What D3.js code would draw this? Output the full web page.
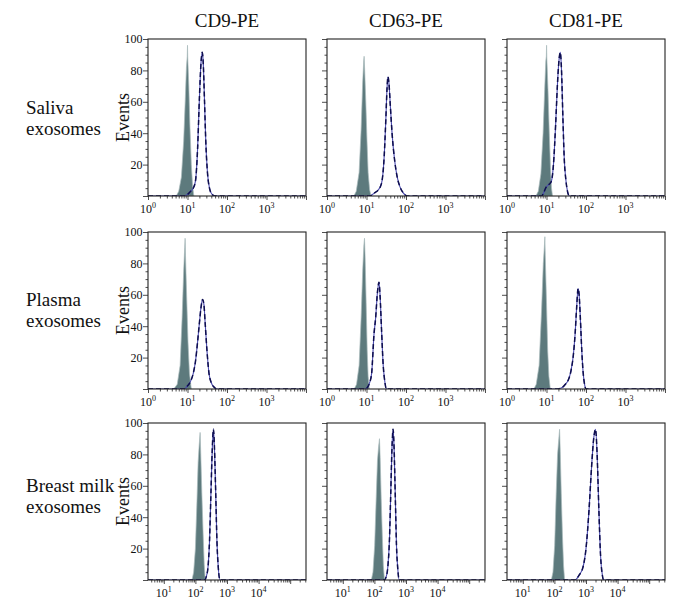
<!DOCTYPE html>
<html>
<head>
<meta charset="utf-8">
<script src="https://cdn.jsdelivr.net/npm/d3@7/dist/d3.min.js"></script>
<style>
  html, body { margin: 0; padding: 0; background: #fff; }
  svg { display: block; }
  svg text { font-family: 'Liberation Serif', 'Times New Roman', Times, 'DejaVu Serif', serif; fill: #111; }
</style>
</head>
<body>
<svg id="chart" width="685" height="616"></svg>
<script>
// ---------- data ----------
const markers = ["CD9-PE", "CD63-PE", "CD81-PE"];
const sampleLabels = [["Saliva", "exosomes"], ["Plasma", "exosomes"], ["Breast milk", "exosomes"]];
const yTickValues = [0, 20, 40, 60, 80, 100];
const yTickLabels = ["", "20", "40", "60", "80", "100"];
const xDomainExponents = [[0, 4], [0, 4], [0.5, 5.5]];
const xTickExponents = [[0, 1, 2, 3], [0, 1, 2, 3], [1, 2, 3, 4]];

// isotype control histograms [intensity, events], row by row
const isoSalivaCD9 = [[5.2,0],[6,3],[7,12],[8,35],[8.8,62],[9.4,82],[9.85,89],[10,96],[10.15,88],[10.8,70],[11.5,45],[12.5,20],[13.5,6],[14.5,0]];
const isoSalivaCD63 = [[4.8,0],[5.5,3],[6.5,15],[7.3,42],[8,72],[8.5,86],[8.7,89],[9,80],[9.6,60],[10.3,35],[11,15],[12,4],[13,0]];
const isoSalivaCD81 = [[5.4,0],[6.2,3],[7.2,14],[8.2,40],[9,68],[9.6,86],[9.9,89],[10.05,96],[10.2,88],[10.9,68],[11.7,42],[12.6,18],[13.4,5],[14.2,0]];
const isoPlasmaCD9 = [[4.5,0],[5.5,3],[6.5,15],[7.3,45],[8,75],[8.5,90],[8.7,96],[8.9,85],[9.5,60],[10.3,30],[11.2,10],[12.5,0]];
const isoPlasmaCD63 = [[4.9,0],[5.6,3],[6.5,15],[7.3,45],[8,75],[8.6,92],[8.9,96],[9.2,85],[9.8,55],[10.4,25],[11,8],[11.8,0]];
const isoPlasmaCD81 = [[4.8,0],[5.5,3],[6.5,15],[7.5,50],[8.3,80],[8.8,90],[9.1,97],[9.3,85],[10,55],[10.7,25],[11.5,8],[12.5,0]];
const isoMilkCD9 = [[78,0],[88,5],[100,20],[112,50],[122,75],[132,86],[141,94],[148,80],[160,55],[175,30],[190,10],[205,0]];
const isoMilkCD63 = [[80,0],[90,5],[102,22],[114,52],[125,76],[136,85],[145,90],[152,78],[164,52],[178,28],[192,9],[208,0]];
const isoMilkCD81 = [[80,0],[90,5],[102,22],[114,55],[126,80],[138,90],[146,96],[153,82],[165,55],[180,28],[195,9],[210,0]];

// stained sample histograms [intensity, events]
const expSalivaCD9 = [[8,0],[10,1],[12,3],[14,5],[16,10],[18,30],[20,62],[22,85],[23.7,91.5],[25,85],[27,60],[29,35],[32,15],[36,5],[42,1],[50,0]];
const expSalivaCD63 = [[12,0],[16,2],[20,4],[24,8],[28,25],[31,50],[33,68],[35,76],[37,72],[40,58],[45,38],[52,22],[60,12],[70,6],[85,2],[110,0]];
const expSalivaCD81 = [[7.5,0],[8.5,2],[9.5,5],[11,7],[12.3,8],[13.5,10],[15,20],[17,45],[19,72],[21,88],[22.4,91.5],[24,80],[26,50],[28,25],[31,10],[34,3],[38,0]];
const expPlasmaCD9 = [[8,0],[10,2],[12,5],[14,10],[16,18],[18,30],[20,42],[22,52],[24,57],[26,54],[28,42],[31,25],[35,10],[40,4],[48,1],[55,0]];
const expPlasmaCD63 = [[9,0],[10.5,1],[12,4],[13.5,10],[15.5,35],[17,45],[19,62],[20.7,68],[22,60],[24,38],[26.5,15],[29,5],[32,0]];
const expPlasmaCD81 = [[18,0],[25,1],[30,3],[36,6],[42,12],[48,22],[53,35],[58,52],[63,64],[67,60],[72,45],[78,25],[85,10],[92,3],[100,0]];
const expMilkCD9 = [[195,0],[220,2],[250,8],[280,25],[310,55],[340,82],[372,96],[400,85],[440,55],[480,25],[530,8],[600,0]];
const expMilkCD63 = [[205,0],[235,2],[265,8],[300,26],[330,56],[360,84],[390,96],[420,84],[460,52],[500,22],[550,7],[610,0]];
const expMilkCD81 = [[450,0],[600,3],[800,8],[1000,20],[1250,45],[1500,72],[1750,90],[2000,96],[2250,80],[2550,45],[2900,15],[3300,3],[3600,0]];

const isoData = [
  [isoSalivaCD9, isoSalivaCD63, isoSalivaCD81],
  [isoPlasmaCD9, isoPlasmaCD63, isoPlasmaCD81],
  [isoMilkCD9, isoMilkCD63, isoMilkCD81]
];
const expData = [
  [expSalivaCD9, expSalivaCD63, expSalivaCD81],
  [expPlasmaCD9, expPlasmaCD63, expPlasmaCD81],
  [expMilkCD9, expMilkCD63, expMilkCD81]
];

// ---------- layout ----------
const FONT = "'Liberation Serif', 'Times New Roman', Times, 'DejaVu Serif', serif";
const panelLefts = [148, 327, 507];
const panelTops = [39, 232, 423];
const panelW = 158, panelH = 157;

const svg = d3.select("#chart");

markers.forEach((m, c) => {
  svg.append("text")
    .attr("x", panelLefts[c] + panelW / 2)
    .attr("y", 27)
    .attr("text-anchor", "middle")
    .attr("font-family", FONT)
    .style("font-size", "19px")
    .text(m);
});

const rowLabelBaselines = [114, 306, 492];
sampleLabels.forEach((lines, r) => {
  const t = svg.append("text").attr("x", 26).attr("y", rowLabelBaselines[r])
    .attr("font-family", FONT).style("font-size", "19px");
  lines.forEach((ln, i) => {
    t.append("tspan").attr("x", 26).attr("dy", i === 0 ? 0 : 21).text(ln);
  });
});

for (let r = 0; r < 3; r++) {
  for (let c = 0; c < 3; c++) {
    const x0 = panelLefts[c], y0 = panelTops[r];
    const g = svg.append("g").attr("transform", `translate(${x0},${y0})`);
    const xs = d3.scaleLog()
      .domain([Math.pow(10, xDomainExponents[r][0]), Math.pow(10, xDomainExponents[r][1])])
      .range([0, panelW]);
    const ys = d3.scaleLinear().domain([0, 100]).range([panelH, 0]);

    const clipId = `clip-${r}-${c}`;
    g.append("clipPath").attr("id", clipId)
      .append("rect").attr("x", 0).attr("y", -2).attr("width", panelW).attr("height", panelH + 2);
    const plot = g.append("g").attr("clip-path", `url(#${clipId})`);

    // isotype (filled grey)
    const area = d3.area()
      .x(d => xs(d[0])).y0(ys(0)).y1(d => ys(d[1]))
      .curve(d3.curveLinear);
    plot.append("path")
      .datum(isoData[r][c])
      .attr("d", area)
      .attr("fill", "#5d7a7d")
      .attr("stroke", "#a9babb")
      .attr("stroke-width", 0.7);

    // stained (blue line, dashed dark overlay)
    const line = d3.line()
      .x(d => xs(d[0])).y(d => ys(d[1]))
      .curve(d3.curveMonotoneX);
    const lineData = [[xs.domain()[0], 0]].concat(expData[r][c]).concat([[xs.domain()[1], 0]]);
    plot.append("path").datum(lineData).attr("d", line)
      .attr("fill", "none").attr("stroke", "#4b4bb0").attr("stroke-width", 1.1);
    plot.append("path").datum(lineData).attr("d", line)
      .attr("fill", "none").attr("stroke", "#0e0e4e").attr("stroke-width", 1.5)
      .attr("stroke-dasharray", "5,3");

    // x axis
    const majors = xTickExponents[r].map(e => Math.pow(10, e));
    const minors = [];
    for (let e = Math.floor(xDomainExponents[r][0]); e < xDomainExponents[r][1]; e++) {
      for (let k = 2; k <= 9; k++) {
        const v = k * Math.pow(10, e);
        if (Math.log10(v) > xDomainExponents[r][0] && Math.log10(v) < xDomainExponents[r][1]) minors.push(v);
      }
    }
    const gxm = g.append("g").attr("transform", `translate(0,${panelH})`)
      .call(d3.axisBottom(xs).tickValues(minors).tickSize(2.5).tickFormat(""));
    gxm.select(".domain").remove();
    const allMajors = [];
    for (let e = Math.ceil(xDomainExponents[r][0]); e <= xDomainExponents[r][1]; e++) allMajors.push(Math.pow(10, e));
    const gx = g.append("g").attr("transform", `translate(0,${panelH})`)
      .call(d3.axisBottom(xs).tickValues(allMajors).tickSize(4).tickFormat(""));
    gx.select(".domain").remove();

    majors.forEach((v, i) => {
      const t = g.append("text")
        .attr("x", xs(v))
        .attr("y", panelH + 17)
        .attr("text-anchor", "middle")
        .attr("font-family", FONT)
        .attr("fill", "#111")
        .style("font-size", "12px");
      t.append("tspan").text("10");
      t.append("tspan").attr("dy", -5).style("font-size", "8px").text(xTickExponents[r][i]);
    });

    // y axis
    const yMinor = d3.range(5, 100, 5).filter(v => v % 20 !== 0);
    const gym = g.append("g").call(d3.axisLeft(ys).tickValues(yMinor).tickSize(2.5).tickFormat(""));
    gym.select(".domain").remove();
    const gy = g.append("g").call(
      d3.axisLeft(ys).tickValues(yTickValues).tickSize(5)
        .tickFormat((d, i) => c === 0 ? yTickLabels[i] : "")
    );
    gy.select(".domain").remove();
    gy.attr("font-family", FONT);
    gy.selectAll("text").style("font-size", "12px").attr("x", -5.5).attr("fill", "#111");
    g.selectAll(".tick line").attr("stroke", "#222").attr("stroke-width", 0.8);

    // frame
    g.append("rect").attr("x", 0).attr("y", 0).attr("width", panelW).attr("height", panelH)
      .attr("fill", "none").attr("stroke", "#222").attr("stroke-width", 1.1);

    if (c === 0) {
      g.append("text")
        .attr("transform", `translate(-19,${panelH / 2}) rotate(-90)`)
        .attr("text-anchor", "middle")
        .attr("font-family", FONT)
        .style("font-size", "18px")
        .text("Events");
    }
  }
}
</script>
</body>
</html>
